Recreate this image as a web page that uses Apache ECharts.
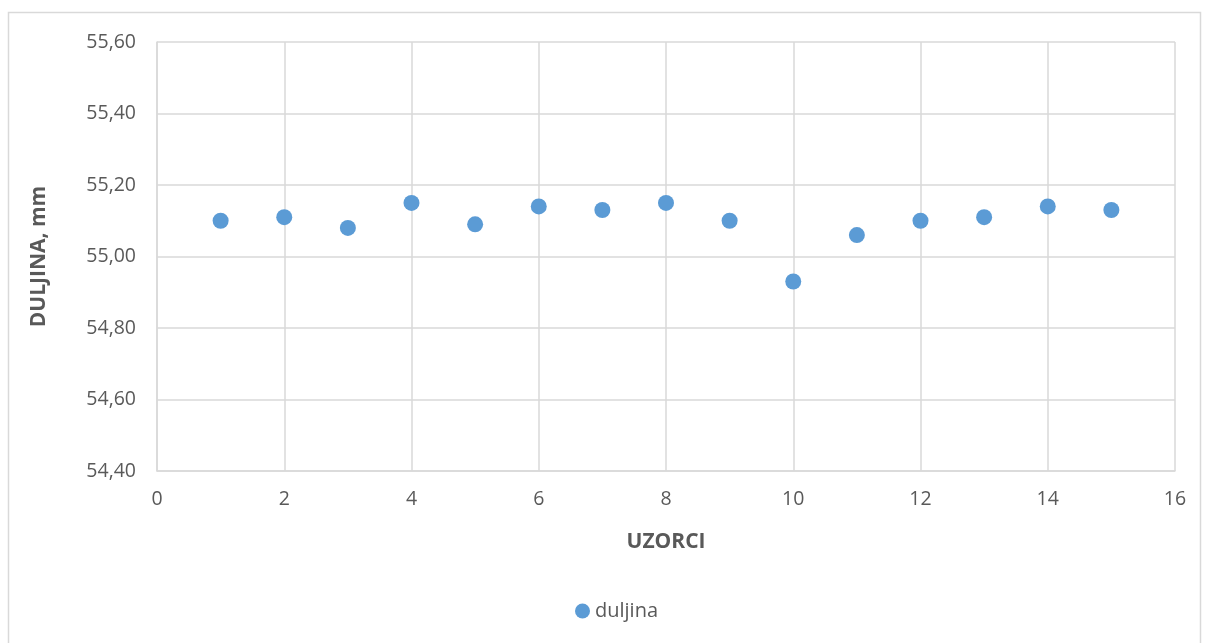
<!DOCTYPE html>
<html>
<head>
<meta charset="utf-8">
<script src="https://cdn.jsdelivr.net/npm/echarts@6/dist/echarts.min.js"></script>
<style>
html,body{margin:0;padding:0;background:#fff;}
#c{width:1205px;height:643px;}
</style>
</head>
<body>
<div id="c"></div>
<script>
const samples = [1,2,3,4,5,6,7,8,9,10,11,12,13,14,15];
const duljina = [55.10,55.11,55.08,55.15,55.09,55.14,55.13,55.15,55.10,54.93,55.06,55.10,55.11,55.14,55.13];
const seriesName = 'duljina';
const xTitle = 'UZORCI';
const yTitle = 'DULJINA, mm';

const chart = echarts.init(document.getElementById('c'), null, {renderer:'canvas'});
const font = 'Open Sans, Liberation Sans, sans-serif';
chart.setOption({
  animation:false,
  backgroundColor:'#fff',
  graphic:[{type:'rect', shape:{x:8.5,y:12.5,width:1192,height:640}, style:{fill:'none',stroke:'#d9d9d9',lineWidth:1.5}, silent:true}],
  grid:{left:157,right:30,top:42,bottom:172,containLabel:false},
  xAxis:{type:'value',min:0,max:16,interval:2,
    name:xTitle,nameLocation:'middle',nameGap:61,
    nameTextStyle:{fontFamily:font,fontSize:21,fontWeight:'bold',color:'#595959'},
    axisLine:{show:true,lineStyle:{color:'#d9d9d9',width:1.5}},
    axisTick:{show:false},
    axisLabel:{fontFamily:font,fontSize:19.5,color:'#595959',margin:18},
    splitLine:{show:true,lineStyle:{color:'#d9d9d9',width:1.5}}},
  yAxis:{type:'value',min:54.4,max:55.6,interval:0.2,
    name:yTitle,nameLocation:'middle',nameGap:107,
    nameTextStyle:{fontFamily:font,fontSize:21,fontWeight:'bold',color:'#595959'},
    axisLine:{show:true,lineStyle:{color:'#d9d9d9',width:1.5}},
    axisTick:{show:false},
    axisLabel:{fontFamily:font,fontSize:19.5,color:'#595959',margin:21,
      formatter:v=>v.toFixed(2).replace('.',',')},
    splitLine:{show:true,lineStyle:{color:'#d9d9d9',width:1.5}}},
  legend:{top:596,left:570,icon:'circle',itemWidth:15,itemHeight:15,itemGap:5,
    textStyle:{fontFamily:font,fontSize:20,color:'#595959'},data:[seriesName]},
  series:[{name:seriesName,type:'scatter',symbol:'circle',symbolSize:16,
    itemStyle:{color:'#5b9bd5',opacity:1},
    data:samples.map((s,i)=>[s,duljina[i]])}]
});
</script>
</body>
</html>
